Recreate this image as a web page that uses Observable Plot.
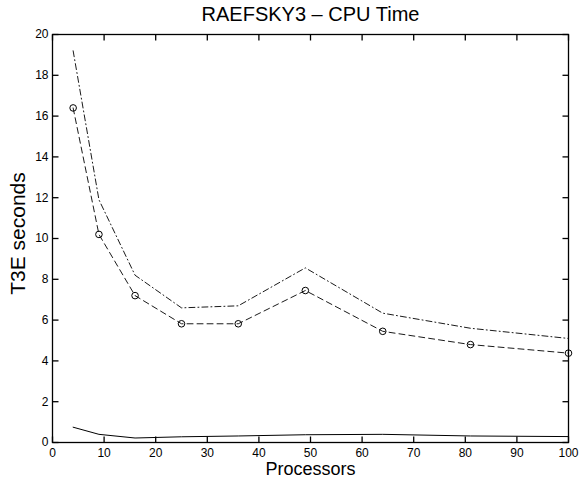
<!DOCTYPE html>
<html>
<head>
<meta charset="utf-8">
<script src="https://cdn.jsdelivr.net/npm/d3@7"></script>
<script src="https://cdn.jsdelivr.net/npm/@observablehq/plot@0.6"></script>
<style>
  html, body { margin: 0; padding: 0; background: #fff; }
  #chart { position: relative; width: 579px; height: 480px; }
  #chart svg { font-family: "Liberation Sans", Arial, sans-serif; }
</style>
</head>
<body>
<div id="chart"></div>
<script>
const processors = [4, 9, 16, 25, 36, 49, 64, 81, 100];
const dashDotSeries = [19.2, 11.9, 8.2, 6.6, 6.7, 8.56, 6.34, 5.6, 5.1];
const dashedSeries = [16.4, 10.2, 7.2, 5.82, 5.82, 7.45, 5.45, 4.8, 4.38];
const solidSeries = [0.75, 0.4, 0.22, 0.28, 0.32, 0.38, 0.4, 0.32, 0.29];
const xTicks = [0, 10, 20, 30, 40, 50, 60, 70, 80, 90, 100];
const yTicks = [0, 2, 4, 6, 8, 10, 12, 14, 16, 18, 20];

const W = 579, H = 480;
const mL = 52, mR = 11, mT = 34, mB = 38;
const pw = W - mL - mR, ph = H - mT - mB;
const xMin = 0, xMax = 100, yMin = 0, yMax = 20;
const tkX = 6 / pw * (xMax - xMin);   // tick length in x units
const tkY = 6 / ph * (yMax - yMin);   // tick length in y units

const rows = (ys) => processors.map((p, i) => ({x: p, y: ys[i]}));
const bottomTicks = xTicks.map(v => ({x: v, y1: yMin, y2: yMin + tkY}));
const topTicks = xTicks.map(v => ({x: v, y1: yMax - tkY, y2: yMax}));
const leftTicks = yTicks.map(v => ({y: v, x1: xMin, x2: xMin + tkX}));
const rightTicks = yTicks.map(v => ({y: v, x1: xMax - tkX, x2: xMax}));

const chart = Plot.plot({
  width: W,
  height: H,
  marginLeft: mL,
  marginRight: mR,
  marginTop: mT,
  marginBottom: mB,
  style: {fontFamily: "'Liberation Sans', Arial, sans-serif", fontSize: "12px", background: "#fff"},
  x: {domain: [xMin, xMax], ticks: xTicks, label: null},
  y: {domain: [yMin, yMax], ticks: yTicks, label: null},
  marks: [
    Plot.link(bottomTicks, {x1: "x", x2: "x", y1: "y1", y2: "y2", stroke: "#000", strokeWidth: 1.3}),
    Plot.link(topTicks, {x1: "x", x2: "x", y1: "y1", y2: "y2", stroke: "#000", strokeWidth: 1.3}),
    Plot.link(leftTicks, {x1: "x1", x2: "x2", y1: "y", y2: "y", stroke: "#000", strokeWidth: 1.3}),
    Plot.link(rightTicks, {x1: "x1", x2: "x2", y1: "y", y2: "y", stroke: "#000", strokeWidth: 1.3}),
    Plot.frame({stroke: "#000", strokeWidth: 1.3}),
    Plot.axisX({ticks: xTicks, tickSize: 0, tickPadding: 6, fontSize: 12, fill: "#000", label: null}),
    Plot.axisY({ticks: yTicks, tickSize: 0, tickPadding: 4, fontSize: 12, fill: "#000", label: null}),
    Plot.line(rows(dashDotSeries), {x: "x", y: "y", stroke: "#000", strokeWidth: 0.9, strokeDasharray: "6,3,1,3"}),
    Plot.line(rows(dashedSeries), {x: "x", y: "y", stroke: "#000", strokeWidth: 0.9, strokeDasharray: "6,4"}),
    Plot.dot(rows(dashedSeries), {x: "x", y: "y", r: 3.3, stroke: "#000", strokeWidth: 1, fill: "none"}),
    Plot.line(rows(solidSeries), {x: "x", y: "y", stroke: "#000", strokeWidth: 1}),
    Plot.text(["RAEFSKY3 – CPU Time"], {frameAnchor: "top", dy: -20, textAnchor: "middle", lineAnchor: "middle", text: d => d, fontSize: 20, fill: "#000"}),
    Plot.text(["Processors"], {frameAnchor: "bottom", dy: 27, textAnchor: "middle", lineAnchor: "middle", text: d => d, fontSize: 18, fill: "#000"}),
    Plot.text(["T3E seconds"], {frameAnchor: "left", dx: -34, dy: -5, textAnchor: "middle", lineAnchor: "middle", rotate: -90, text: d => d, fontSize: 21, fill: "#000"})
  ]
});
document.getElementById("chart").appendChild(chart);
</script>
</body>
</html>
